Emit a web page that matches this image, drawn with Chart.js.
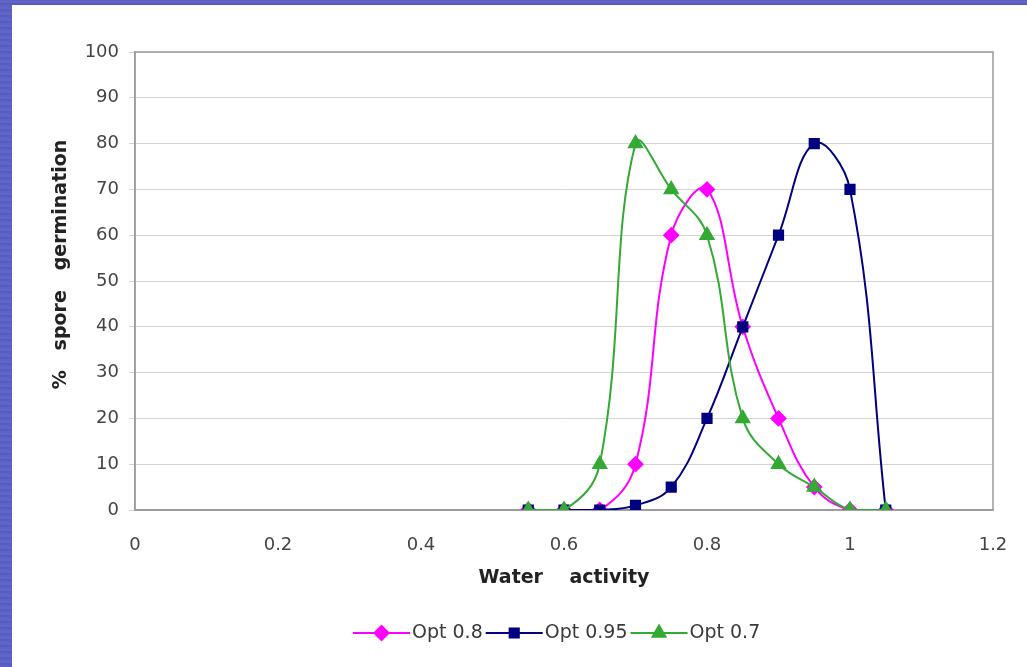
<!DOCTYPE html>
<html lang="en">
<head>
    <meta charset="UTF-8">
    <title>Spore germination vs water activity</title>
    <style>
        html, body {
            margin: 0;
            padding: 0;
        }
        body {
            width: 1027px;
            height: 667px;
            overflow: hidden;
            background: repeating-linear-gradient(180deg, #5b5fc2 0px, #6468cc 2px, #5558bb 4px, #6165c8 6px);
            position: relative;
        }
        #panel {
            position: absolute;
            left: 12px;
            top: 5px;
            width: 1015px;
            height: 662px;
            background: #fff;
        }
    </style>
</head>
<body>
    <div id="panel">
        <canvas id="chart" width="1015" height="662"></canvas>
    </div>

    <script src="https://cdn.jsdelivr.net/npm/chart.js"></script>
    <script>
        // data
        const waterActivity = [0.55, 0.6, 0.65, 0.7, 0.75, 0.8, 0.85, 0.9, 0.95, 1.0, 1.05];
        const opt08 = [0, 0, 0, 10, 60, 70, 40, 20, 5, 0, 0];
        const opt095 = [0, 0, 0, 1, 5, 20, 40, 60, 80, 70, 0];
        const opt07 = [0, 0, 10, 80, 70, 60, 20, 10, 5, 0, 0];
        const seriesNames = ['Opt 0.8', 'Opt 0.95', 'Opt 0.7'];
        const xTitle = 'Water    activity';
        // leading spaces nudge the rotated title up a little, like the original
        const yTitle = '     %   spore   germination';

        const toPoints = vals => vals.map((v, i) => ({ x: waterActivity[i], y: v }));

        // plot frame + custom legend (line with marker in the middle, like Excel)
        const frameAndLegend = {
            id: 'frameAndLegend',
            beforeDatasetsDraw(chart) {
                const { ctx, chartArea: a } = chart;
                ctx.save();
                ctx.strokeStyle = '#9a9a9a';
                ctx.lineWidth = 1.5;
                ctx.strokeRect(a.left, a.top, a.right - a.left, a.bottom - a.top);
                ctx.restore();
            },
            afterDraw(chart) {
                const { ctx } = chart;
                const y = 628;
                const lineLen = 57;
                ctx.save();
                ctx.font = '19px "DejaVu Sans"';
                ctx.textBaseline = 'middle';
                const items = chart.data.datasets.map(ds => ({ ds, w: ctx.measureText(ds.label).width }));
                const total = items.reduce((s, it) => s + lineLen + 2 + it.w + 3, 0);
                let x = 341;
                items.forEach(({ ds, w }) => {
                    ctx.strokeStyle = ds.borderColor;
                    ctx.fillStyle = ds.borderColor;
                    ctx.lineWidth = 2;
                    ctx.beginPath();
                    ctx.moveTo(x, y);
                    ctx.lineTo(x + lineLen, y);
                    ctx.stroke();
                    Chart.helpers.drawPoint(ctx, {
                        pointStyle: ds.pointStyle,
                        radius: ds.pointRadius,
                        rotation: 0,
                        borderWidth: 1
                    }, x + lineLen / 2, y);
                    ctx.fillStyle = '#3a3a3a';
                    ctx.fillText(ds.label, x + lineLen + 2, y);
                    x += lineLen + 2 + w + 3;
                });
                ctx.restore();
            }
        };

        function series(label, vals, color, style, r, order) {
            return {
                label: label,
                data: toPoints(vals),
                borderColor: color,
                backgroundColor: color,
                pointBackgroundColor: color,
                pointBorderColor: color,
                pointStyle: style,
                pointRadius: r,
                borderWidth: 2,
                tension: 0.4,
                order: order
            };
        }

        const tickFont = { family: 'DejaVu Sans', size: 18 };
        const titleFont = { family: 'DejaVu Sans', size: 19, weight: 'bold' };

        new Chart(document.getElementById('chart'), {
            type: 'line',
            data: {
                datasets: [
                    series(seriesNames[0], opt08, '#ff00ff', 'rectRot', 7, 3),
                    series(seriesNames[1], opt095, '#000080', 'rect', 6.5, 2),
                    series(seriesNames[2], opt07, '#33aa33', 'triangle', 7.5, 1)
                ]
            },
            options: {
                responsive: false,
                animation: false,
                layout: { padding: { left: 0, top: 47, right: 34, bottom: 0 } },
                plugins: {
                    legend: { display: false },
                    tooltip: { enabled: false }
                },
                scales: {
                    x: {
                        type: 'linear',
                        min: 0,
                        max: 1.2,
                        ticks: {
                            stepSize: 0.2,
                            color: '#444',
                            font: tickFont,
                            padding: 17,
                            callback: v => String(+v.toFixed(2))
                        },
                        grid: { display: false },
                        border: { display: true, color: '#9a9a9a', width: 1.5 },
                        title: { display: true, text: xTitle, color: '#222', font: titleFont, padding: { top: 0, bottom: 78 } },
                        afterFit(scale) { scale.height = 157; }
                    },
                    y: {
                        min: 0,
                        max: 100,
                        ticks: { stepSize: 10, color: '#444', font: tickFont, padding: 10 },
                        grid: { color: '#d4d4d4', lineWidth: 1, tickLength: 6, tickColor: '#d4d4d4' },
                        border: { display: true, color: '#9a9a9a', width: 1.5 },
                        title: { display: true, text: yTitle, color: '#222', font: titleFont, padding: { top: 38, bottom: 0 } },
                        afterFit(scale) { scale.width = 123; }
                    }
                }
            },
            plugins: [frameAndLegend]
        });
    </script>
</body>
</html>
